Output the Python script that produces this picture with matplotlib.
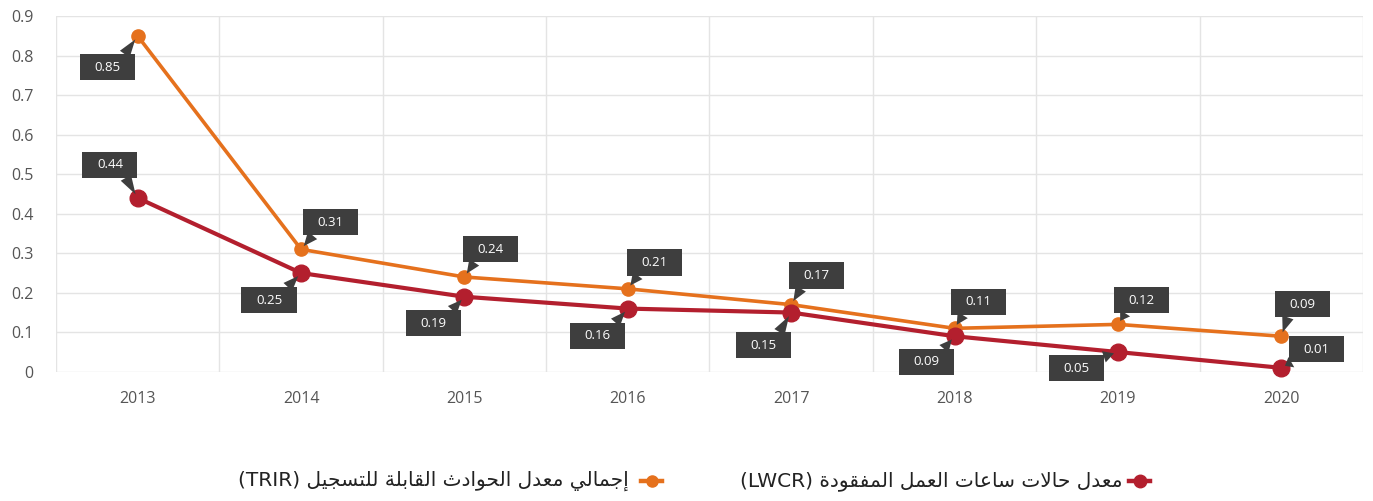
import matplotlib
matplotlib.use("Agg")
import matplotlib.pyplot as plt
from matplotlib.path import Path
from matplotlib.lines import Line2D

# ---------------- data ----------------
years = ["2013", "2014", "2015", "2016", "2017", "2018", "2019", "2020"]
trir = [0.85, 0.31, 0.24, 0.21, 0.17, 0.11, 0.12, 0.09]
lwcr = [0.44, 0.25, 0.19, 0.16, 0.15, 0.09, 0.05, 0.01]
y_ticks = [0, 0.1, 0.2, 0.3, 0.4, 0.5, 0.6, 0.7, 0.8, 0.9]
y_tick_labels = ["0", "0.1", "0.2", "0.3", "0.4", "0.5", "0.6", "0.7", "0.8", "0.9"]
lwcr_label_ar = "معدل حالات ساعات العمل المفقودة"
lwcr_label_en = "(LWCR)"
trir_label_ar = "إجمالي معدل الحوادث القابلة للتسجيل"
trir_label_en = "(TRIR)"

ORANGE = "#E5711D"
RED = "#B31F2E"
BOX = "#3E3E3E"
GRID = "#E4E4E4"
TXT = "#555555"

# ------------- Arabic shaping (presentation forms) -------------
FORMS = {
    'ا': ('\uFE8D', '\uFE8E', None, None),
    'إ': ('\uFE87', '\uFE88', None, None),
    'ب': ('\uFE8F', '\uFE90', '\uFE91', '\uFE92'),
    'ة': ('\uFE93', '\uFE94', None, None),
    'ت': ('\uFE95', '\uFE96', '\uFE97', '\uFE98'),
    'ث': ('\uFE99', '\uFE9A', '\uFE9B', '\uFE9C'),
    'ج': ('\uFE9D', '\uFE9E', '\uFE9F', '\uFEA0'),
    'ح': ('\uFEA1', '\uFEA2', '\uFEA3', '\uFEA4'),
    'د': ('\uFEA9', '\uFEAA', None, None),
    'س': ('\uFEB1', '\uFEB2', '\uFEB3', '\uFEB4'),
    'ع': ('\uFEC9', '\uFECA', '\uFECB', '\uFECC'),
    'ف': ('\uFED1', '\uFED2', '\uFED3', '\uFED4'),
    'ق': ('\uFED5', '\uFED6', '\uFED7', '\uFED8'),
    'ل': ('\uFEDD', '\uFEDE', '\uFEDF', '\uFEE0'),
    'م': ('\uFEE1', '\uFEE2', '\uFEE3', '\uFEE4'),
    'و': ('\uFEED', '\uFEEE', None, None),
    'ي': ('\uFEF1', '\uFEF2', '\uFEF3', '\uFEF4'),
    'لا': ('\uFEFB', '\uFEFC', None, None),
}


def shape_rtl(s):
    toks = []
    i = 0
    while i < len(s):
        if s[i] == 'ل' and i + 1 < len(s) and s[i + 1] == 'ا':
            toks.append('لا')
            i += 2
        else:
            toks.append(s[i])
            i += 1
    out = []
    for k, t in enumerate(toks):
        if t not in FORMS:
            out.append(t)
            continue
        prev = toks[k - 1] if k > 0 else None
        nxt = toks[k + 1] if k + 1 < len(toks) else None
        jp = prev in FORMS and FORMS[prev][2] is not None
        jn = FORMS[t][2] is not None and nxt in FORMS
        iso, fin, ini, med = FORMS[t]
        out.append(med if (jp and jn) else fin if jp else ini if jn else iso)
    return ''.join(out)[::-1]


def callout_box(x0, y0, width, height, mutation_size):
    px = 1.1 * mutation_size
    py = 0.5 * mutation_size
    verts = [(x0 - px, y0 - py), (x0 + width + px, y0 - py),
             (x0 + width + px, y0 + height + py), (x0 - px, y0 + height + py),
             (x0 - px, y0 - py)]
    return Path(verts, closed=True)


# ---------------- figure ----------------
fig = plt.figure(figsize=(13.73, 5.01), dpi=100)
ax = fig.add_axes([0.0408, 0.2579, 0.9519, 0.7096])
x = list(range(len(years)))

ax.set_xlim(-0.5, len(years) - 0.5)
ax.set_ylim(0, 0.9)
for s in ax.spines.values():
    s.set_visible(False)

for yv in y_ticks:
    ax.axhline(yv, color=GRID, lw=1, zorder=0)
for b in range(len(years) + 1):
    ax.axvline(b - 0.5, color=GRID, lw=1, zorder=0)

ax.set_yticks(y_ticks)
ax.set_yticklabels(y_tick_labels)
ax.set_xticks(x)
ax.set_xticklabels(years)
ax.tick_params(axis='both', length=0, labelcolor=TXT, labelsize=11.5)
ax.tick_params(axis='y', pad=16)
ax.tick_params(axis='x', pad=14)
for lab in ax.get_xticklabels() + ax.get_yticklabels():
    lab.set_family("Open Sans")

ax.plot(x, trir, color=ORANGE, lw=2.6, marker='o', ms=9.5, zorder=3, clip_on=False)
ax.plot(x, lwcr, color=RED, lw=3.0, marker='o', ms=12, zorder=4, clip_on=False)

# callout offsets (points)
trir_off = [(-21.5, -22.5), (21, 19.5), (19, 20), (19.5, 19), (18.5, 21),
            (17.5, 19), (17, 17.5), (15, 23)]
lwcr_off = [(-20, 24), (-23, -19.5), (-22, -19), (-22, -19.5), (-20, -23.5),
            (-20.5, -18.5), (-30, -11.5), (25, 13.5)]


def relpos_for(dx, dy):
    return (0.95 if dx < 0 else 0.05, 0.95 if dy < 0 else 0.05)


def callouts(vals, offs):
    for xi, v, (dx, dy) in zip(x, vals, offs):
        ax.annotate(f"{v:.2f}", xy=(xi, v), xytext=(dx, dy),
                    textcoords='offset points', ha='center', va='center',
                    color='white', fontsize=9.5, family="Open Sans",
                    bbox=dict(boxstyle=callout_box, fc=BOX, ec='none'),
                    arrowprops=dict(arrowstyle='wedge,tail_width=0.9',
                                    fc=BOX, ec='none', shrinkA=0, shrinkB=3,
                                    relpos=relpos_for(dx, dy)),
                    zorder=6, annotation_clip=False)


callouts(trir, trir_off)
callouts(lwcr, lwcr_off)

# ---------------- legend ----------------
ly = 1 - 481 / 501
for (x0, x1), col, ms in [((1129, 1150), RED, 9), ((641, 662), ORANGE, 8)]:
    fig.add_artist(Line2D([x0 / 1373, x1 / 1373], [ly, ly], color=col, lw=3.2,
                          transform=fig.transFigure))
    fig.add_artist(Line2D([(x0 + x1) / 2 / 1373], [ly], color=col, marker='o',
                          ms=ms, lw=0, transform=fig.transFigure))

fig.text(1122 / 1373, ly, lwcr_label_en + " " + shape_rtl(lwcr_label_ar),
         ha='right', va='center', fontsize=14.5, color='#222222',
         family=["DejaVu Sans"])
fig.text(629 / 1373, ly, trir_label_en + " " + shape_rtl(trir_label_ar),
         ha='right', va='center', fontsize=14.5, color='#222222',
         family=["DejaVu Sans"])

fig.savefig("out.png", dpi=100, facecolor='white')
